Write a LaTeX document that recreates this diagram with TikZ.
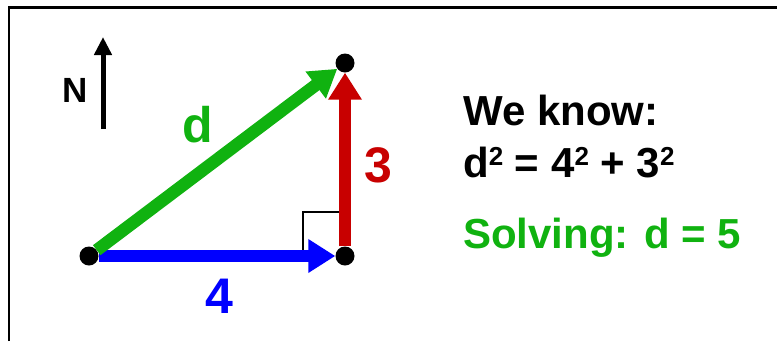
\documentclass[tikz,border=0pt]{standalone}
\usepackage{fontspec}
\setmainfont{Liberation Sans}
\usetikzlibrary{arrows.meta}
\definecolor{vecgreen}{RGB}{16,178,16}
\definecolor{vecblue}{RGB}{0,0,255}
\definecolor{vecred}{RGB}{200,0,0}
\newcommand{\sqr}{\raisebox{12pt}{\fontsize{26}{26}\selectfont\bfseries 2}}
\begin{document}
\begin{tikzpicture}[x=1pt, y=-1pt,
	dot/.style={fill=black, circle, inner sep=0pt, minimum size=19pt},
	vec/.style={line width=12.5pt, -{Triangle[length=27pt, width=32pt]}},
	lbl/.style={font=\fontsize{50}{50}\selectfont\bfseries, anchor=base},
	info/.style={font=\fontsize{42}{42}\selectfont\bfseries, anchor=base west, inner sep=0pt}]
	
	% ---- Frame (cut off right and bottom) ----
	\useasboundingbox (0,0) rectangle (777,341);
	\draw[line width=2.5pt] (9,341) -- (9,7.5) -- (777,7.5);
	
	% ---- Adjustable colors ----
	\def\colorD{vecgreen}
	\def\colorE{vecblue}
	\def\colorN{vecred}
	
	% ---- Corners of the triangle ----
	\foreach \name/\x/\y in {
		A/89/256,
		B/345/256,
		C/345/63
	}
	{
		\node[dot] (v\name) at (\x,\y) {};
	}
	
	% ---- Right angle mark ----
	\draw[line width=2.5pt] ([xshift=-42pt]vB.center) |- ([xshift=-6pt, yshift=44pt]vB.center);
	
	% ---- Vectors ----
	\draw[vec, \colorE] (vA) -- (vB);
	\draw[vec, \colorN] (vB) -- (vC);
	\draw[vec, \colorD] (vA) -- (vC);
	
	% ---- Vector labels ----
	\node[lbl, text=\colorD] (labD) at (198,142) {d};
	\node[lbl, text=\colorE] (labE) at (219,313) {4};
	\node[lbl, text=\colorN] (labN) at (378,182) {3};
	
	% ---- North arrow ----
	\coordinate (nTail) at (103,129);
	\coordinate (nTip) at (103,37);
	\draw[line width=5pt, -{Triangle[length=18pt, width=17pt]}] (nTail) -- (nTip);
	\node[anchor=base, font=\fontsize{35}{35}\selectfont\bfseries] (north) at (75,102) {N};
	
	% ---- Text on the right ----
	\node[info] (know) at (463,125) {We know:};
	\node[info] (sum) at (463,177) {d\sqr{} = 4\sqr{} + 3\sqr};
	\node[info, text=\colorD] (solve) at (463,248) {Solving: d = 5};
	
\end{tikzpicture}
\end{document}
